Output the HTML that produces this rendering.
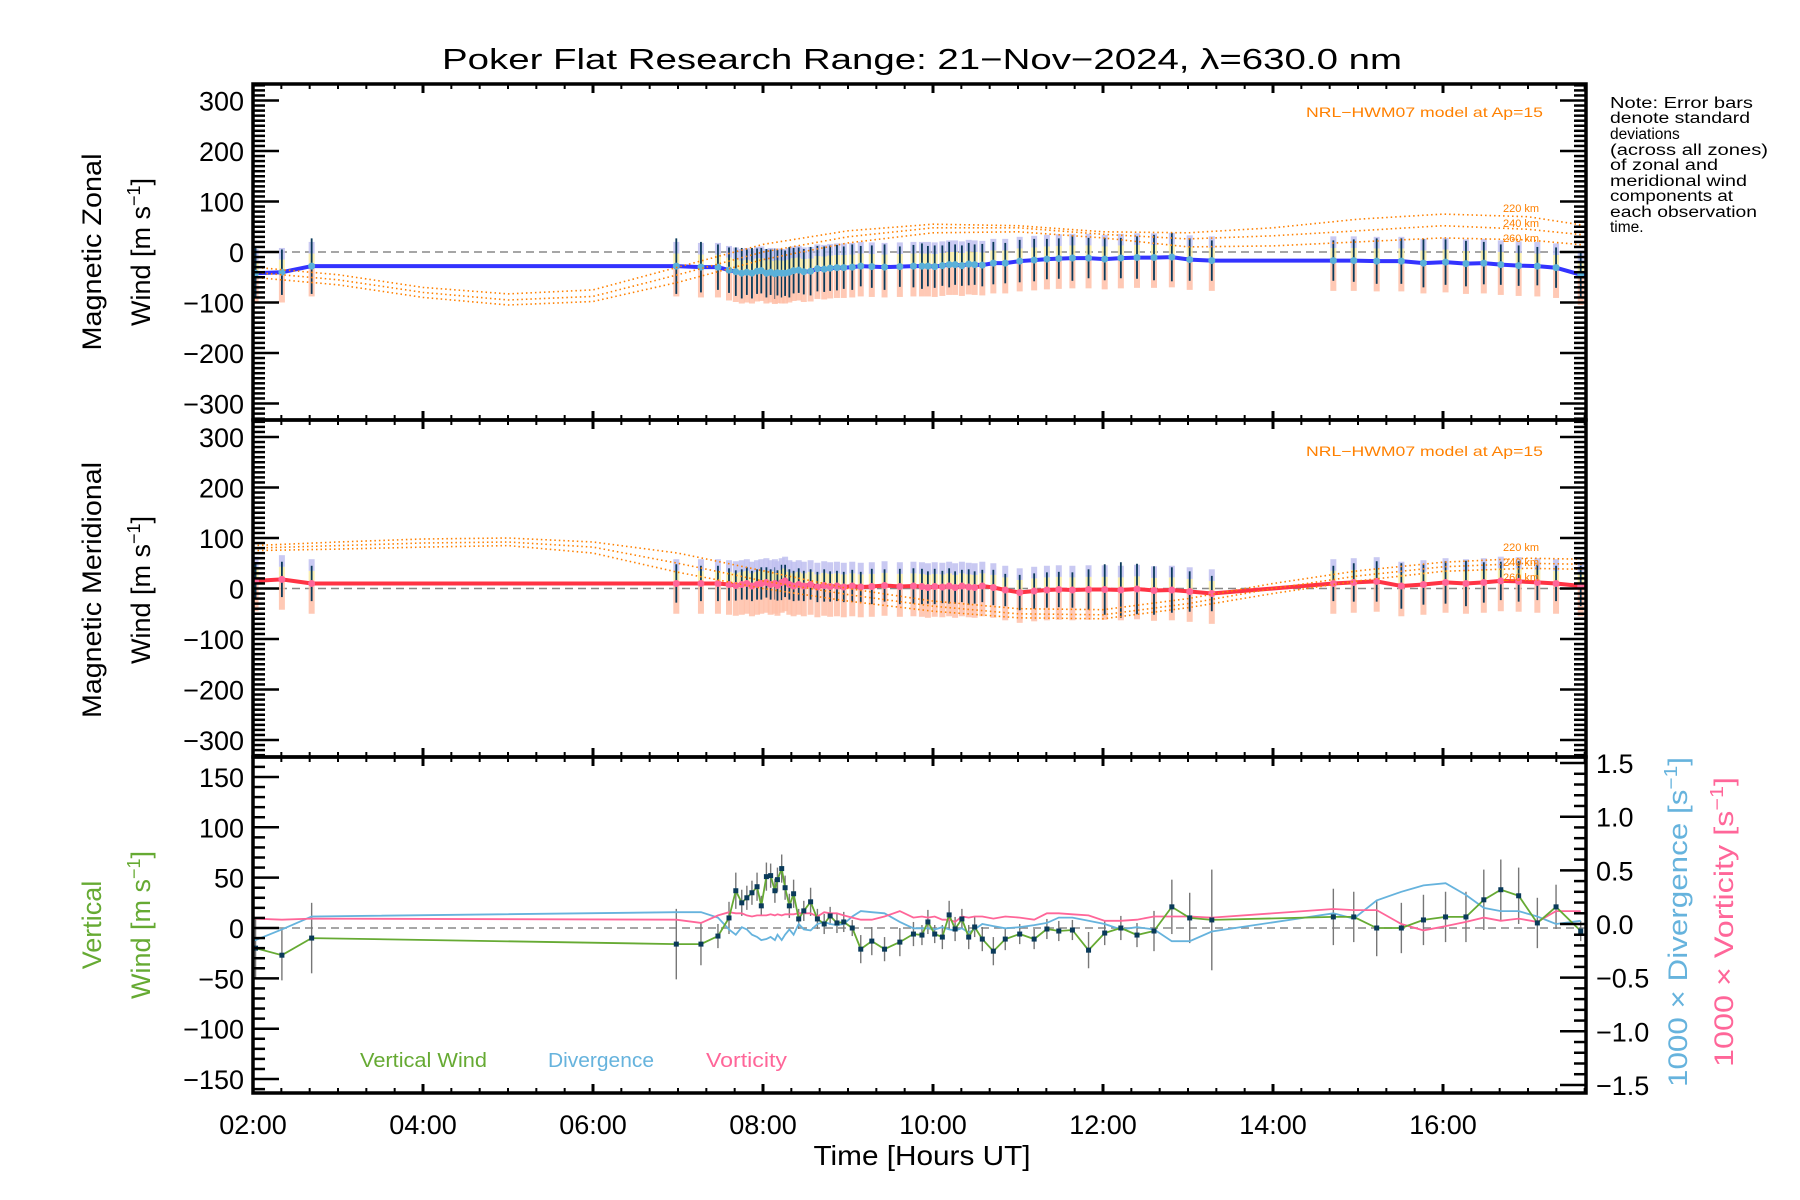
<!DOCTYPE html>
<html><head><meta charset="utf-8"><title>Poker Flat winds</title>
<style>
html,body{margin:0;padding:0;background:#fff;}
svg{display:block;font-family:"Liberation Sans",sans-serif;}
</style></head>
<body>
<svg id="chart" width="1800" height="1200" viewBox="0 0 1800 1200" xmlns="http://www.w3.org/2000/svg">
<rect x="0" y="0" width="1800" height="1200" fill="#fff"/>
<text x="922" y="69" font-size="29" text-anchor="middle" textLength="960" lengthAdjust="spacingAndGlyphs">Poker Flat Research Range: 21−Nov−2024, λ=630.0 nm</text>
<g id="plots"></g>
<text x="1306" y="117" font-size="14" fill="#ff8000" textLength="237" lengthAdjust="spacingAndGlyphs">NRL−HWM07 model at Ap=15</text>
<text x="1306" y="456" font-size="14" fill="#ff8000" textLength="237" lengthAdjust="spacingAndGlyphs">NRL−HWM07 model at Ap=15</text>
<g font-size="11" fill="#ff8000">
<text x="1503" y="212">220 km</text><text x="1503" y="227">240 km</text><text x="1503" y="242">260 km</text>
</g>
<g font-size="11" fill="#ff8000">
<text x="1503" y="551">220 km</text><text x="1503" y="566">240 km</text><text x="1503" y="581">260 km</text>
</g>
<g font-size="15.5">
<text x="1610" y="108" textLength="143" lengthAdjust="spacingAndGlyphs">Note: Error bars</text>
<text x="1610" y="123" textLength="140" lengthAdjust="spacingAndGlyphs">denote standard</text>
<text x="1610" y="139">deviations</text>
<text x="1610" y="155" textLength="158" lengthAdjust="spacingAndGlyphs">(across all zones)</text>
<text x="1610" y="170" textLength="108" lengthAdjust="spacingAndGlyphs">of zonal and</text>
<text x="1610" y="186" textLength="137" lengthAdjust="spacingAndGlyphs">meridional wind</text>
<text x="1610" y="201" textLength="123" lengthAdjust="spacingAndGlyphs">components at</text>
<text x="1610" y="217" textLength="147" lengthAdjust="spacingAndGlyphs">each observation</text>
<text x="1610" y="232">time.</text>
</g>
<g font-size="27" text-anchor="middle">
<text transform="translate(101,252) rotate(-90)" textLength="197" lengthAdjust="spacingAndGlyphs">Magnetic Zonal</text>
<text transform="translate(150,252) rotate(-90)">Wind [m s<tspan dy="-10" font-size="18">−1</tspan><tspan dy="10">]</tspan></text>
<text transform="translate(101,590) rotate(-90)" textLength="256" lengthAdjust="spacingAndGlyphs">Magnetic Meridional</text>
<text transform="translate(150,590) rotate(-90)">Wind [m s<tspan dy="-10" font-size="18">−1</tspan><tspan dy="10">]</tspan></text>
<text transform="translate(101,925) rotate(-90)" fill="#66aa33">Vertical</text>
<text transform="translate(150,925) rotate(-90)" fill="#66aa33">Wind [m s<tspan dy="-10" font-size="18">−1</tspan><tspan dy="10">]</tspan></text>
<text transform="translate(1687,922) rotate(-90)" fill="#66b3dd" textLength="330" lengthAdjust="spacingAndGlyphs">1000 × Divergence [s<tspan dy="-10" font-size="18">−1</tspan><tspan dy="10">]</tspan></text>
<text transform="translate(1733,922) rotate(-90)" fill="#ff6699" textLength="290" lengthAdjust="spacingAndGlyphs">1000 × Vorticity [s<tspan dy="-10" font-size="18">−1</tspan><tspan dy="10">]</tspan></text>
</g>
<text x="922" y="1165" font-size="28" text-anchor="middle" textLength="217" lengthAdjust="spacingAndGlyphs">Time [Hours UT]</text>
<g font-size="20">
<text x="360" y="1067" fill="#66aa33" textLength="127" lengthAdjust="spacingAndGlyphs">Vertical Wind</text>
<text x="548" y="1067" fill="#66b3dd" textLength="106" lengthAdjust="spacingAndGlyphs">Divergence</text>
<text x="706" y="1067" fill="#ff6699" textLength="81" lengthAdjust="spacingAndGlyphs">Vorticity</text>
</g>
</svg>
<script>
// ---- data ----
const obsTimes = [2.03,2.34,2.69,6.98,7.27,7.47,7.60,7.68,7.75,7.81,7.87,7.93,7.98,8.04,8.09,8.14,8.17,8.22,8.26,8.31,8.36,8.42,8.48,8.56,8.64,8.72,8.79,8.87,8.95,9.05,9.15,9.28,9.43,9.61,9.77,9.87,9.94,10.02,10.11,10.19,10.26,10.34,10.42,10.49,10.58,10.71,10.85,11.02,11.19,11.34,11.48,11.64,11.83,12.02,12.21,12.40,12.60,12.81,13.02,13.28,14.71,14.95,15.22,15.51,15.77,16.03,16.27,16.48,16.68,16.89,17.11,17.33,17.62];
const zonalWind = [-42,-40,-28,-28,-30,-30,-36,-39,-42,-40,-42,-38,-37,-42,-40,-43,-41,-42,-42,-40,-37,-36,-39,-38,-33,-34,-32,-31,-31,-30,-28,-29,-30,-29,-28,-28,-28,-29,-27,-25,-25,-27,-24,-25,-26,-22,-22,-18,-16,-14,-13,-12,-12,-14,-12,-11,-11,-10,-15,-17,-17,-17,-18,-18,-22,-20,-23,-22,-25,-27,-28,-31,-45];
const zonalErr = [50,45,55,55,50,45,45,48,50,45,50,45,45,48,45,50,45,48,45,50,45,45,45,48,45,45,45,45,42,45,40,42,45,40,42,45,40,42,40,45,40,40,42,40,42,42,40,42,42,40,40,45,40,42,40,42,45,48,42,40,40,42,45,45,48,45,45,42,40,40,38,40,45];
const meridWind = [15,18,10,10,10,10,8,6,8,10,5,8,10,12,8,10,6,12,15,8,5,8,5,8,3,6,4,5,3,5,3,4,6,4,5,4,2,4,3,5,2,5,3,2,5,2,-3,-8,-5,-3,-2,-3,-2,-2,-3,-1,-4,-3,-6,-10,10,12,14,5,8,12,10,12,15,14,12,10,5];
const meridErr = [35,35,35,38,35,35,32,30,30,32,30,30,32,30,30,32,30,35,32,30,30,32,30,30,30,32,30,30,30,32,30,35,32,35,35,35,32,35,32,35,32,32,35,32,32,35,32,35,35,35,35,35,40,50,55,50,48,45,40,35,35,38,40,45,40,42,45,40,38,40,35,35,40];
const vertWind = [-20,-27,-10,-16,-16,-8,10,37,25,30,35,41,22,51,52,37,48,59,40,22,34,9,17,26,9,4,12,5,6,0,-21,-13,-21,-14,-6,-7,6,-6,-9,13,-1,9,-9,1,-11,-23,-11,-6,-11,-1,-3,-2,-22,-5,0,-7,-3,21,10,8,11,11,0,0,8,11,11,28,38,32,5,21,-3];
const vertErr = [30,25,35,35,21,12,16,18,13,12,12,14,10,14,12,12,12,14,12,12,14,10,10,14,10,10,9,10,10,8,14,14,12,14,12,10,12,9,12,14,12,10,12,10,12,14,11,10,10,10,10,10,18,12,12,12,20,27,25,50,28,25,28,25,25,25,25,30,30,28,25,22,10];
const divergence = [-0.15,-0.05,0.07,0.11,0.11,0.06,-0.05,-0.1,-0.03,-0.05,-0.1,-0.12,-0.15,-0.14,-0.12,-0.15,-0.1,-0.15,-0.1,-0.05,-0.1,0.0,-0.05,-0.06,0.0,0.02,0.0,-0.01,0.0,0.07,0.12,0.11,0.1,0.02,-0.04,-0.04,-0.04,-0.05,-0.03,-0.05,-0.06,-0.04,-0.08,-0.05,0.0,-0.02,-0.04,-0.03,-0.01,0.01,0.06,0.06,0.03,0.0,-0.05,-0.03,-0.05,-0.16,-0.16,-0.07,0.1,0.05,0.22,0.3,0.36,0.38,0.27,0.15,0.12,0.12,0.07,0.0,0.03];
const vorticity = [0.05,0.04,0.05,0.04,0.01,0.08,0.11,0.1,0.1,0.08,0.07,0.08,0.08,0.08,0.09,0.08,0.09,0.08,0.09,0.09,0.09,0.1,0.1,0.1,0.07,0.11,0.1,0.1,0.08,0.06,0.04,0.04,0.07,0.12,0.06,0.07,0.06,0.07,0.04,0.04,0.02,0.07,0.06,0.07,0.07,0.05,0.07,0.06,0.04,0.1,0.1,0.09,0.08,0.03,0.03,0.04,0.07,0.07,0.07,0.06,0.14,0.13,0.13,0.0,-0.06,-0.02,0.02,0.06,0.03,0.05,0.02,0.12,0.12];
const modelHours = [2,3,4,5,6,7,8,9,10,11,12,13,14,15,16,17,17.65];
const zonal220 = [-30,-45,-70,-83,-75,-30,15,42,55,52,40,38,48,65,75,70,53];
const zonal240 = [-40,-55,-80,-95,-88,-45,0,30,48,48,35,26,32,42,52,45,34];
const zonal260 = [-50,-65,-90,-105,-98,-60,-15,18,38,40,28,10,12,20,28,24,14];
const merid220 = [85,92,98,100,92,70,35,0,-25,-40,-42,-20,10,35,52,60,58];
const merid240 = [80,85,90,92,82,50,15,-12,-35,-50,-52,-30,0,25,43,50,48];
const merid260 = [75,78,82,85,70,32,0,-25,-45,-58,-60,-38,-10,15,34,40,38];
const timeTickLabels = ["02:00","04:00","06:00","08:00","10:00","12:00","14:00","16:00"];
const windTickLabels = ["−300","−200","−100","0","100","200","300"];
const vertTickLabels = ["−150","−100","−50","0","50","100","150"];
const rightTickLabels = ["−1.5","−1.0","−0.5","0.0","0.5","1.0","1.5"];

// ---- axes ----
const X0 = 253, X1 = 1586, H0 = 2, H1 = 2 + (1586-253)/85;
const x = h => X0 + (h - H0) * 85;
const P = [{top:84,bot:420},{top:420,bot:757},{top:757,bot:1093}];
const y1 = v => 252 - v * 0.505;
const y2 = v => 588.5 - v * 0.505;
const y3 = v => 928 - v * 1.007;
const r3 = v => 924 - v * 107.3;
const NS = "http://www.w3.org/2000/svg";
const root = document.getElementById('plots');
function mk(tag, attrs, parent) {
  const e = document.createElementNS(NS, tag);
  for (const k in attrs) e.setAttribute(k, attrs[k]);
  (parent || root).appendChild(e);
  return e;
}
function group(name) {
  const g = mk('g', {});
  
  
  return g;
}
function clipFor(i) {
  const cp = mk('clipPath', {id: 'clip' + i});
  mk('rect', {x: X0, y: P[i].top, width: X1 - X0, height: P[i].bot - P[i].top}, cp);
}
[0,1,2].forEach(clipFor);
function poly(hs, vs, fy, attrs, parent) {
  const pts = hs.map((h, i) => x(h).toFixed(1) + ',' + fy(vs[i]).toFixed(1)).join(' ');
  return mk('polyline', Object.assign({points: pts, fill: 'none'}, attrs), parent);
}

// zero lines
[y1(0), y2(0), y3(0)].forEach((yy, i) => {
  const l = mk('line', {x1: X0, x2: X1, y1: yy, y2: yy, stroke: '#888', 'stroke-width': 1.5, 'stroke-dasharray': '8,5'});
  
  
});

// wind panels
function windPanel(idx, fy, vals, errs, models, lineColor, dotColor, name) {
  const g = group(name + '-series');
  g.setAttribute('clip-path', 'url(#clip' + idx + ')');
  const mg = group(name + '-model-curves');
  mg.setAttribute('clip-path', 'url(#clip' + idx + ')');
  models.forEach((m, k) => {
    const c = poly(modelHours, m, fy, {stroke: '#ff8000', 'stroke-width': 1.6, 'stroke-dasharray': '1.5,3'}, mg);
    
    
  });
  obsTimes.forEach((h, i) => {
    const v = vals[i], xx = x(h);
    const s1 = mk('rect', {x: xx - 3, y: fy(v), width: 6, height: fy(v - 60) - fy(v), fill: '#ffc0a8', opacity: 0.85}, g);
    
    
    const s2 = mk('rect', {x: xx - 3, y: fy(v + 25), width: 6, height: fy(v) - fy(v + 25), fill: '#f8eaa0', opacity: 0.85}, g);
    
    
    const s3 = mk('rect', {x: xx - 3, y: fy(v + 48), width: 6, height: fy(v + 25) - fy(v + 48), fill: '#c0c0f0', opacity: 0.85}, g);
    
    
    const eb = mk('line', {x1: xx, x2: xx, y1: fy(v + errs[i]), y2: fy(v - errs[i]), stroke: '#0a3a5a', 'stroke-width': 1.8}, g);
    
    
  });
  const ln = poly([H0].concat(obsTimes, [H1]), [vals[0]].concat(vals, [vals[vals.length-1]]), fy, {stroke: lineColor, 'stroke-width': 4}, g);
  
  
  obsTimes.forEach((h, i) => {
    const d = mk('circle', {cx: x(h), cy: fy(vals[i]), r: 3.5, fill: dotColor}, g);
    
    
  });
}
windPanel(0, y1, zonalWind, zonalErr, [zonal220, zonal240, zonal260], '#3333ff', '#5ab0d8', 'zonal');
windPanel(1, y2, meridWind, meridErr, [merid220, merid240, merid260], '#ff3344', '#ff6699', 'meridional');

// vertical panel
(function(){
  const g = group('vertical-series');
  g.setAttribute('clip-path', 'url(#clip2)');
  obsTimes.forEach((h, i) => {
    const eb = mk('line', {x1: x(h), x2: x(h), y1: y3(vertWind[i] + vertErr[i]), y2: y3(vertWind[i] - vertErr[i]), stroke: '#777', 'stroke-width': 1.4}, g);
    
    
  });
  const dl = poly([H0].concat(obsTimes), [divergence[0]].concat(divergence), r3, {stroke: '#66b3dd', 'stroke-width': 1.8}, g);
  
  
  const vl = poly([H0].concat(obsTimes), [vorticity[0]].concat(vorticity), r3, {stroke: '#ff6699', 'stroke-width': 1.8}, g);
  
  
  const wl = poly([H0].concat(obsTimes), [vertWind[0]].concat(vertWind), y3, {stroke: '#66aa33', 'stroke-width': 1.8}, g);
  
  
  obsTimes.forEach((h, i) => {
    const p = mk('rect', {x: x(h) - 2.5, y: y3(vertWind[i]) - 2.5, width: 5, height: 5, fill: '#0a3a5a'}, g);
    
    
  });
})();

// frames & ticks
const ax = group('axes');
function ln(x1, y1_, x2, y2_, w) { mk('line', {x1: x1, y1: y1_, x2: x2, y2: y2_, stroke: '#000', 'stroke-width': w || 2}, ax); }
P.forEach((p, i) => {
  mk('rect', {x: X0, y: p.top, width: X1 - X0, height: p.bot - p.top, fill: 'none', stroke: '#000', 'stroke-width': 3.5}, ax);
  for (let m = 0; m <= Math.floor((H1 - H0) * 3); m++) {
    const xx = x(H0 + m / 3), maj = m % 6 === 0, L = maj ? 9 : 5;
    ln(xx, p.top, xx, p.top + L, maj ? 3 : 2);
    ln(xx, p.bot, xx, p.bot - L, maj ? 3 : 2);
  }
});
function yTicks(fy, vmin, vmax, minor, major, top, bot, right) {
  for (let v = vmin; v <= vmax; v += minor) {
    const yy = fy(v); if (yy < top + 1 || yy > bot - 1) continue;
    const maj = Math.abs(v % major) < 1e-6, L = maj ? 26 : 12;
    ln(X0, yy, X0 + L, yy, 2.5);
    if (right) ln(X1, yy, X1 - L, yy, 2.5);
  }
}
yTicks(y1, -330, 330, 10, 100, P[0].top, P[0].bot, true);
yTicks(y2, -330, 330, 10, 100, P[1].top, P[1].bot, true);
yTicks(y3, -160, 160, 10, 50, P[2].top, P[2].bot, false);
for (let k = -16; k <= 16; k++) {
  const v = k / 10, yy = r3(v); if (yy < P[2].top + 1 || yy > P[2].bot - 1) continue;
  const maj = k % 5 === 0, L = maj ? 26 : 12;
  ln(X1, yy, X1 - L, yy, 2.5);
}
// tick labels
const tl = group('tick-labels');
function txt(s, xx, yy, anchor, name) {
  const t = mk('text', {x: xx, y: yy, 'font-size': 27, 'text-anchor': anchor}, tl);
  t.textContent = s;
  
  
}
timeTickLabels.forEach((s, i) => txt(s, x(2 + 2 * i), 1134, 'middle', 'x-tick-label'));
windTickLabels.forEach((s, i) => { txt(s, 244, y1(-300 + 100 * i) + 10, 'end', 'zonal-y-tick-label'); txt(s, 244, y2(-300 + 100 * i) + 10, 'end', 'meridional-y-tick-label'); });
vertTickLabels.forEach((s, i) => txt(s, 244, y3(-150 + 50 * i) + 10, 'end', 'vertical-y-tick-label'));
rightTickLabels.forEach((s, i) => txt(s, 1596, r3(-1.5 + 0.5 * i) + 10, 'start', 'right-y-tick-label'));
</script>
</body></html>
